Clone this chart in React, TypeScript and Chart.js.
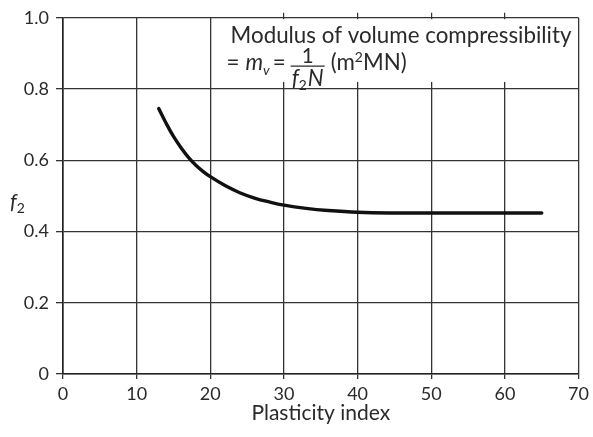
import { useEffect, useRef } from "react";
import { Chart, registerables } from "chart.js";

Chart.register(...registerables);

// ---- data ----
const plasticityIndex = [13, 14, 15, 16, 17, 18, 19, 20, 22, 24, 26, 28, 30, 33, 36, 40, 45, 50, 55, 60, 65];
const f2Values = [0.745, 0.704, 0.667, 0.636, 0.609, 0.587, 0.569, 0.554, 0.529, 0.509, 0.494, 0.483, 0.474, 0.465, 0.459, 0.454, 0.452, 0.452, 0.452, 0.452, 0.452];
const xTickValues = [0, 10, 20, 30, 40, 50, 60, 70];
const yTickValues = [0, 0.2, 0.4, 0.6, 0.8, 1.0];
const xAxisTitle = "Plasticity index";
const yAxisSymbol = "f";
const yAxisSubscript = "2";
const noteLine1 = "Modulus of volume compressibility";
const noteUnitsPre = "(m";
const noteUnitsSup = "2";
const noteUnitsPost = "MN)";

const FONT = "Lato, 'Open Sans', 'DejaVu Sans', sans-serif";
const TEXT = "#2a2a2a";
const GRID = "#333333";

export default function App() {
  const ref = useRef<HTMLCanvasElement | null>(null);

  useEffect(() => {
    const canvas = ref.current;
    if (!canvas) return;

    const notePlugin = {
      id: "notePlugin",
      afterDraw(chart: any) {
        const { ctx, scales, chartArea } = chart;
        const xs = scales.x;
        const ys = scales.y;
        const X = (v: number) => xs.getPixelForValue(v);
        const Y = (v: number) => ys.getPixelForValue(v);
        ctx.save();

        // fit first line to its width in the reference
        ctx.font = `20px ${FONT}`;
        const w20 = ctx.measureText(noteLine1).width;
        const l1Left = X(22.75);
        const l1Right = X(69.05);
        const size = (20 * (l1Right - l1Left)) / w20;
        const small = size * 0.62;

        // white background of the note
        ctx.fillStyle = "#fff";
        const mLeft = X(21.5);
        const mRight = X(69.8);
        const mTop = Y(0.996);
        const mBottom = Y(0.82);
        ctx.fillRect(mLeft, mTop, mRight - mLeft, mBottom - mTop);

        ctx.fillStyle = TEXT;
        ctx.textBaseline = "alphabetic";
        ctx.textAlign = "left";
        ctx.font = `${size}px ${FONT}`;
        ctx.fillText(noteLine1, l1Left, Y(0.929));

        // second line: = m_v = 1/(f2 N) (m2MN)
        const base = Y(0.853);
        const reg = `${size}px ${FONT}`;
        const ita = `italic ${size}px ${FONT}`;
        const numFont = `${size * 0.92}px ${FONT}`;
        const subReg = `${small}px ${FONT}`;
        const subIta = `italic ${small}px ${FONT}`;
        let x = X(22.2);
        ctx.font = reg;
        ctx.fillText("=", x, base);
        x += ctx.measureText("=").width + 6;
        ctx.font = ita;
        ctx.fillText("m", x, base);
        x += ctx.measureText("m").width;
        ctx.font = subIta;
        ctx.fillText("v", x, base + 5);
        x += ctx.measureText("v").width + 3;
        ctx.font = reg;
        ctx.fillText("=", x, base);
        x += ctx.measureText("=").width + 5;

        // fraction
        ctx.font = ita;
        const wf = ctx.measureText("f").width;
        const wN = ctx.measureText("N").width;
        ctx.font = subReg;
        const w2 = ctx.measureText("2").width;
        const denW = wf + w2 + wN + 1;
        ctx.font = numFont;
        const numW = ctx.measureText("1").width;
        const fracW = Math.max(denW, numW) + 2;
        const denBase = base + 16;
        ctx.fillStyle = TEXT;
        ctx.fillText("1", x + (fracW - numW) / 2, base - 7);
        ctx.strokeStyle = TEXT;
        ctx.lineWidth = 1.2;
        ctx.beginPath();
        ctx.moveTo(x, base - 4);
        ctx.lineTo(x + fracW, base - 4);
        ctx.stroke();
        let dx = x + (fracW - denW) / 2;
        ctx.font = ita;
        ctx.fillText("f", dx, denBase);
        dx += wf;
        ctx.font = subReg;
        ctx.fillText("2", dx, denBase + 4);
        dx += w2 + 1;
        ctx.font = ita;
        ctx.fillText("N", dx, denBase);
        x += fracW + 6;

        // units
        ctx.font = reg;
        ctx.fillText(noteUnitsPre, x, base);
        x += ctx.measureText(noteUnitsPre).width;
        ctx.font = subReg;
        ctx.fillText(noteUnitsSup, x, base - 8);
        x += ctx.measureText(noteUnitsSup).width;
        ctx.font = reg;
        ctx.fillText(noteUnitsPost, x, base);

        // y axis symbol f2
        const yl = chartArea.left - 53;
        const yb = Y(0.462);
        ctx.font = `italic 21px ${FONT}`;
        ctx.fillText(yAxisSymbol, yl, yb);
        const wfy = ctx.measureText(yAxisSymbol).width;
        ctx.font = `14px ${FONT}`;
        ctx.fillText(yAxisSubscript, yl + wfy, yb + 4);

        ctx.restore();
      },
    };

    const chart = new Chart(canvas, {
      type: "line",
      data: {
        datasets: [
          {
            data: plasticityIndex.map((x, i) => ({ x, y: f2Values[i] })),
            borderColor: "#111",
            borderWidth: 3.4,
            pointRadius: 0,
            fill: false,
            tension: 0.4,
            borderCapStyle: "round",
            borderJoinStyle: "round",
          },
        ],
      },
      options: {
        responsive: false,
        animation: false,
        devicePixelRatio: 1,
        layout: { padding: { left: 0, right: 13, top: 17, bottom: 0 } },
        plugins: { legend: { display: false }, tooltip: { enabled: false } },
        scales: {
          x: {
            type: "linear",
            position: "bottom",
            min: 0,
            max: 70,
            afterBuildTicks: (s: any) => {
              s.ticks = xTickValues.map((v) => ({ value: v }));
            },
            afterFit: (s: any) => {
              s.height = 63;
            },
            ticks: {
              color: TEXT,
              font: { family: FONT, size: 18 },
              padding: 4,
              maxRotation: 0,
              autoSkip: false,
            },
            grid: { color: GRID, lineWidth: 1.3, tickLength: 5, tickColor: GRID },
            border: { color: "#222", width: 1.6 },
            title: {
              display: true,
              text: xAxisTitle,
              color: TEXT,
              font: { family: FONT, size: 21 },
              padding: { top: 0, bottom: 11 },
            },
          },
          x2: {
            type: "linear",
            position: "top",
            min: 0,
            max: 70,
            afterBuildTicks: (s: any) => {
              s.ticks = xTickValues.map((v) => ({ value: v }));
            },
            afterFit: (s: any) => {
              s.height = 0;
            },
            ticks: { display: false },
            grid: {
              drawOnChartArea: false,
              tickLength: 5,
              lineWidth: 1.2,
              color: (c: any) =>
                c.tick && c.tick.value >= 30 && c.tick.value <= 60 ? GRID : "rgba(0,0,0,0)",
            },
            border: { display: false },
          },
          y: {
            type: "linear",
            min: 0,
            max: 1,
            afterBuildTicks: (s: any) => {
              s.ticks = yTickValues.map((v) => ({ value: v }));
            },
            afterFit: (s: any) => {
              s.width = 63;
            },
            ticks: {
              color: TEXT,
              font: { family: FONT, size: 18 },
              padding: 7,
              callback: (v: any) => (Number(v) === 0 ? "0" : Number(v).toFixed(1)),
            },
            grid: { color: GRID, lineWidth: 1.3, tickLength: 7, tickColor: GRID },
            border: { color: "#222", width: 1.6 },
          },
        },
      },
      plugins: [notePlugin],
    } as any);

    return () => chart.destroy();
  }, []);

  return (
    <div style={{ position: "absolute", left: 0, top: 0, width: 593, height: 437, background: "#fff" }}>
      <canvas ref={ref} width={593} height={437} style={{ display: "block" }} />
    </div>
  );
}
